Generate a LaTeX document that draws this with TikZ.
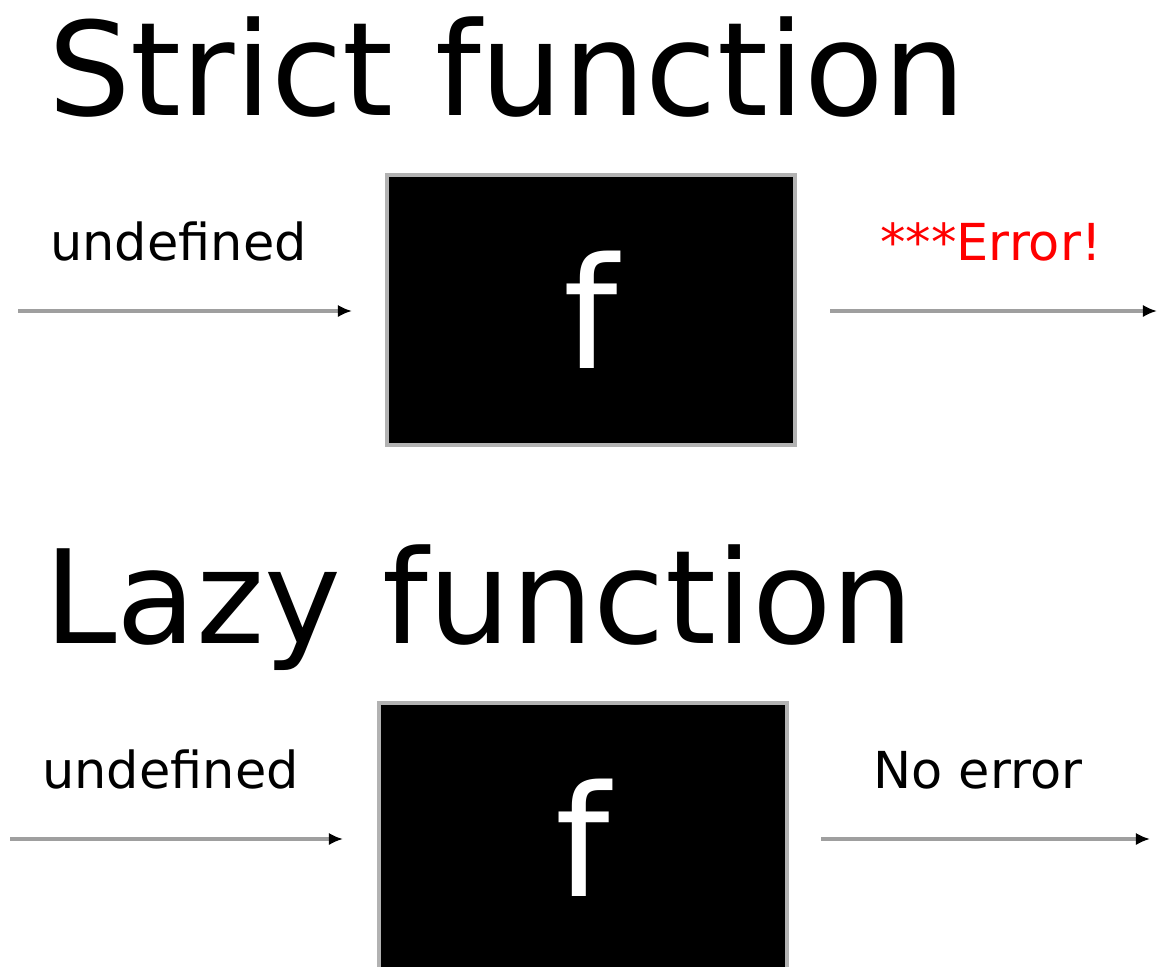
\documentclass[tikz,border=0pt]{standalone}
\usepackage{fontspec}
\setmainfont{DejaVu Sans}
\usetikzlibrary{arrows.meta,positioning}

\tikzset{
  heading/.style={anchor=base west,inner sep=0pt,font=\fontsize{74}{90}\selectfont},
  tag/.style={anchor=base west,inner sep=0pt,font=\fontsize{29}{34}\selectfont},
  funcbox/.style={draw=gray!60,line width=1.8pt,fill=black,text=white,
    minimum width=8.16cm,minimum height=5.4cm,inner sep=0pt,
    font=\fontsize{88}{100}\selectfont},
  flow/.style={draw=gray!75,line width=2pt,-{Latex[black,length=8pt,width=7pt]}}
}

\begin{document}
\begin{tikzpicture}[x=0.02cm,y=-0.02cm]
    \useasboundingbox (0,0) rectangle (1157,967);
    \clip (0,0) rectangle (1157,967);
    % strict
    \node[heading] (strict) at (48,115) {Strict function};
    \node[funcbox] (fs) at (591,310) {f};
    \node[tag] (inS) at (50,260) {undefined};
    \node[tag,text=red] (outS) at (880,260) {***Error!};
    \coordinate (aS) at (18,311);
    \coordinate (bS) at (352,311);
    \coordinate (cS) at (830,311);
    \coordinate (dS) at (1157,311);
    \draw[flow] (aS) -- (bS);
    \draw[flow] (cS) -- (dS);
    % lazy
    \node[heading] (lazy) at (44,643) {Lazy function};
    \node[funcbox] (fl) at (583,838) {f};
    \node[tag] (inL) at (42,788) {undefined};
    \node[tag] (outL) at (873,788) {No error};
    \coordinate (aL) at (10,839);
    \coordinate (bL) at (343,839);
    \coordinate (cL) at (821,839);
    \coordinate (dL) at (1150,839);
    \draw[flow] (aL) -- (bL);
    \draw[flow] (cL) -- (dL);
\end{tikzpicture}
\end{document}
